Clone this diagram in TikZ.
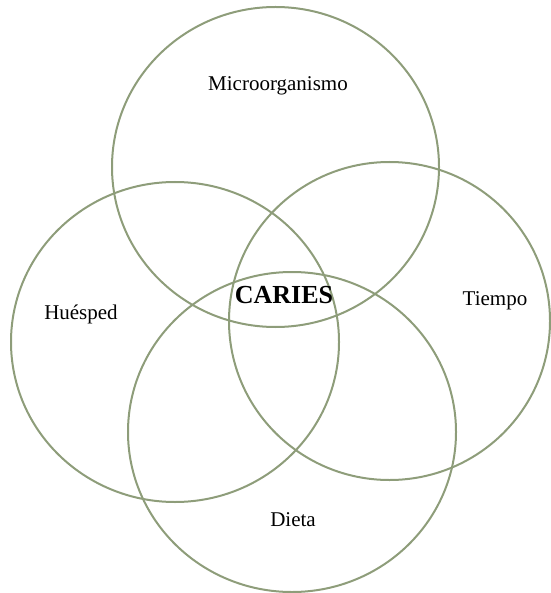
\documentclass[tikz,border=0pt]{standalone}
\usepackage{fontspec}
\setmainfont{Liberation Serif}
\usepackage{tikz}
\usetikzlibrary{positioning}
\usepackage{xcolor}
\definecolor{ringgreen}{RGB}{142,157,122}

\begin{document}
\begin{tikzpicture}[
    x=1pt, y=-1pt,
    ring/.style={draw=ringgreen, line width=2pt},
    factor/.style={font=\fontsize{21}{24}\selectfont, inner sep=0pt},
    core/.style={font=\bfseries\fontsize{26}{29}\selectfont, inner sep=0pt}
]
    \useasboundingbox (0,0) rectangle (550,593);

    % Rings
    \draw[ring] (275.5,167) ellipse [x radius=163.5, y radius=160];
    \draw[ring] (175,342) ellipse [x radius=164, y radius=160];
    \draw[ring] (389.5,321) ellipse [x radius=160.5, y radius=159];
    \draw[ring] (292,432) ellipse [x radius=164, y radius=160];

    % Labels
    \node[factor] (micro) at (278,86) {Microorganismo};
    \node[factor] (huesped) at (81,314) {Huésped};
    \node[factor] (tiempo) at (495,301) {Tiempo};
    \node[factor] (dieta) at (293,520) {Dieta};
    \node[core] (caries) at (284,295) {CARIES};
\end{tikzpicture}
\end{document}
